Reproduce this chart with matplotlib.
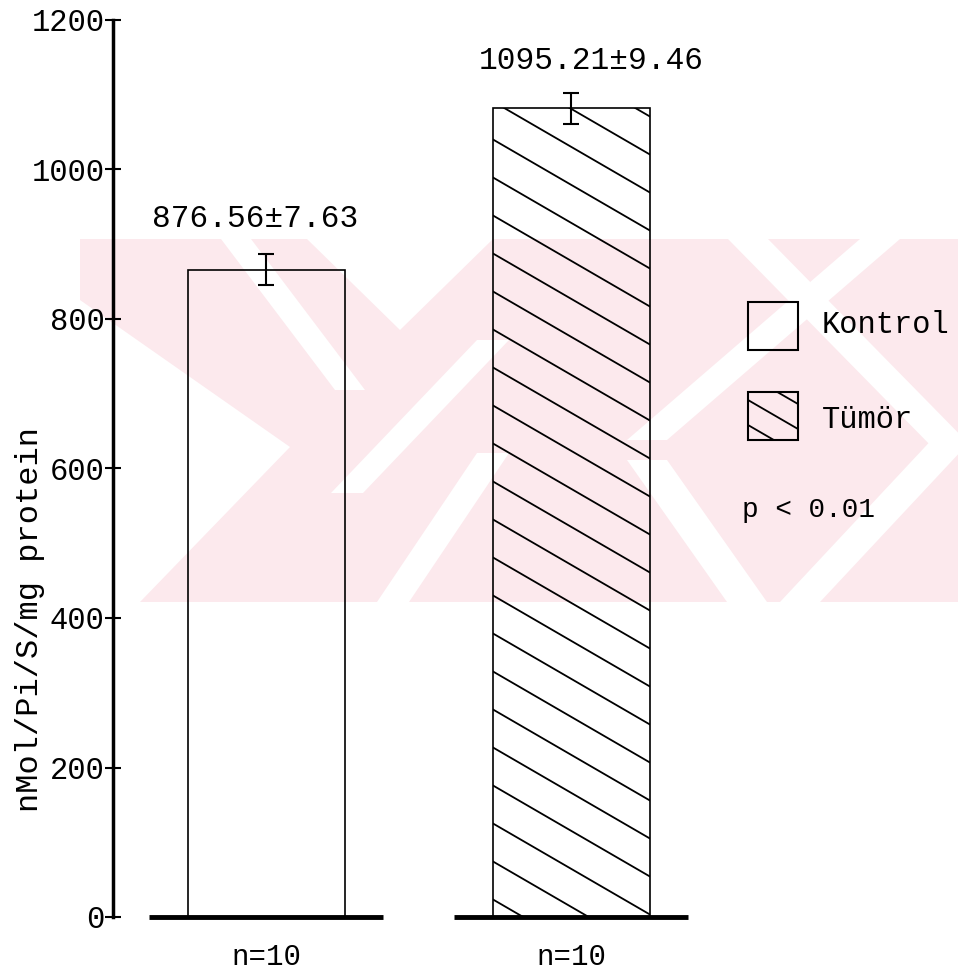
import numpy as np
import matplotlib
matplotlib.use("Agg")
import matplotlib.pyplot as plt
from matplotlib.patches import Rectangle, Polygon
from matplotlib.lines import Line2D
from matplotlib.transforms import IdentityTransform

# values
groups = ["Kontrol", "Tümör"]
means = [866, 1082]          # bar heights as drawn
errs = [21, 21]              # error bar half-lengths as drawn
mean_labels = ["876.56±7.63", "1095.21±9.46"]
n_labels = ["n=10", "n=10"]
yticks = [0, 200, 400, 600, 800, 1000, 1200]
ylabel = "nMol/Pi/S/mg protein"
p_text = "p < 0.01"

plt.rcParams["font.family"] = ["Liberation Mono", "DejaVu Sans Mono"]

W, H = 958, 975
fig = plt.figure(figsize=(W / 100, H / 100), dpi=100)


def px(x, y):
    # pixel position (from top-left) -> figure fraction
    return (x / W, 1 - y / H)


# faint pink watermark from the scan
pink = "#fce9ed"
wm = Rectangle(px(80, 602), (958 - 80) / W, (602 - 239) / H,
               transform=fig.transFigure, color=pink, lw=0, zorder=-3)
fig.add_artist(wm)


def band(p0, p1, w):
    (x0, y0), (x1, y1) = p0, p1
    pts = [(x0 - w / 2, y0), (x0 + w / 2, y0), (x1 + w / 2, y1), (x1 - w / 2, y1)]
    return [px(a, b) for a, b in pts]


white_shapes = [
    [px(80, 300), px(290, 447), px(140, 602), px(80, 602)],
    band((236, 239), (350, 390), 30),
    [px(307, 239), px(493, 239), px(400, 330)],
    band((493, 340), (347, 493), 32),
    band((493, 453), (393, 602), 32),
    band((748, 239), (958, 453), 40),
    band((880, 239), (647, 440), 40),
    band((958, 433), (800, 602), 40),
    band((647, 460), (747, 602), 40),
]
for shp in white_shapes:
    poly = Polygon(shp, closed=True, transform=fig.transFigure,
                   color="white", lw=0, zorder=-2)
    poly.set_clip_path(wm)
    fig.add_artist(poly)

# main axes: y=0 at 917 px, y=1200 at 20 px, bars centred at 266 and 571 px
ax = fig.add_axes([113 / W, 1 - 917 / H, (958 - 113) / W, (917 - 20) / H])
ax.patch.set_visible(False)
x = np.arange(len(groups))
ax.set_xlim(-0.502, 2.269)
ax.set_ylim(0, 1200)

bars = ax.bar(x, means, width=0.515, fill=False, edgecolor="black", linewidth=1.2)
ax.errorbar(x, means, yerr=errs, fmt="none", ecolor="black",
            elinewidth=1.5, capsize=6, capthick=1.5)
ax.hlines(np.zeros(len(x)), x - 0.385, x + 0.385, colors="black",
          linewidth=3.5, clip_on=False)


def hatch(patch, spacing, phase, slope=0.58, lw=1.3):
    # diagonal lines (down to the right) clipped to a rectangle, in pixels
    bb = patch.get_window_extent()
    span = (bb.x1 - bb.x0) * slope
    start = bb.y1 - phase
    k0 = -int(np.ceil(span / spacing)) - 1
    k1 = int(np.ceil((bb.y1 - bb.y0) / spacing)) + 1
    for k in range(k0, k1):
        yl = start - k * spacing
        ln = Line2D([bb.x0, bb.x1], [yl, yl - span], transform=IdentityTransform(),
                    color="black", lw=lw, zorder=3)
        fig.add_artist(ln)
        ln.set_clip_path(patch)


hatch(bars[1], 38, 31)

for i in range(len(groups)):
    dx, dy = [(-11, 35), (20, 32)][i]
    ax.annotate(mean_labels[i], xy=(x[i], means[i] + errs[i]), xytext=(dx, dy),
                textcoords="offset pixels", ha="center", va="center", fontsize=22.5)
    ax.annotate(n_labels[i], xy=(x[i], 0), xytext=(0, -40),
                textcoords="offset pixels", ha="center", va="center",
                fontsize=21, annotation_clip=False)

ax.set_yticks(yticks)
ax.tick_params(axis="y", direction="inout", length=12, width=1.5,
               labelsize=22, pad=0)
ax.set_xticks([])
for s in ["top", "right", "bottom"]:
    ax.spines[s].set_visible(False)
ax.spines["left"].set_linewidth(2.5)
ax.spines["left"].set_bounds(0, 1200)

fig.text(*px(30, 620), ylabel, rotation=90, ha="center", va="center", fontsize=23)

# hand-drawn legend
box_k = Rectangle(px(748, 350), 50 / W, 48 / H, transform=fig.transFigure,
                  fill=False, edgecolor="black", lw=1.5)
box_t = Rectangle(px(748, 440), 50 / W, 48 / H, transform=fig.transFigure,
                  fill=False, edgecolor="black", lw=1.5)
fig.add_artist(box_k)
fig.add_artist(box_t)
hatch(box_t, 25, 8)
fig.text(*px(822, 325), groups[0], va="center", fontsize=22)
fig.text(*px(822, 420), groups[1], va="center", fontsize=22)
fig.text(*px(742, 510), p_text, va="center", fontsize=20)

fig.savefig("out.png", dpi=100)
